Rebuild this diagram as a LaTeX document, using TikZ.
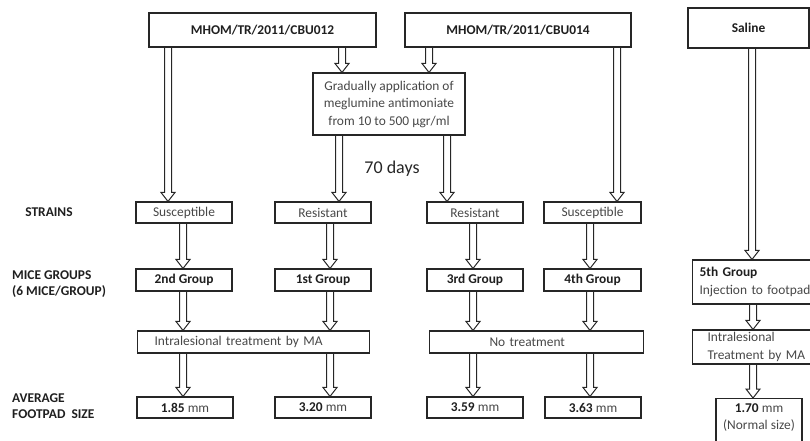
\documentclass[tikz,border=0pt]{standalone}
\usepackage{fontspec}
\setmainfont{Carlito}
\usetikzlibrary{calc}
\tikzset{
  box/.style={draw=black!85, line width=1.1pt, inner sep=0pt,
    font=\fontsize{13.4}{17.5}\selectfont, text=black!72},
  bbox/.style={box, font=\fontsize{13.4}{17.5}\selectfont\bfseries, text=black!88},
  sidelabel/.style={inner sep=0pt, font=\fontsize{13.4}{16}\selectfont\bfseries, text=black!88, align=left},
  barrowstyle/.style={draw=black!85, line width=1pt, line join=miter},
}
\newcommand\barrow[3]{%
  \draw[barrowstyle] let \p0=(#1,0), \p1=(#2.south), \p2=(#3.north) in
    (\x0-3.5pt,\y1) -- (\x0-3.5pt,\y2+9pt) -- (\x0-7pt,\y2+9pt) -- (\x0,\y2)
    -- (\x0+7pt,\y2+9pt) -- (\x0+3.5pt,\y2+9pt) -- (\x0+3.5pt,\y1);}
\begin{document}
\begin{tikzpicture}[x=1pt,y=-1pt]
\useasboundingbox (0,0) rectangle (810,441);
% top row
\node[bbox, minimum width=227, minimum height=34] (cbuA) at (262.5,30) {MHOM/TR/2011/CBU012};
\node[bbox, minimum width=226, minimum height=34] (cbuB) at (518,30) {MHOM/TR/2011/CBU014};
\node[bbox, minimum width=121, minimum height=40] (saline) at (748.5,28) {Saline};
\node[box, minimum width=152, minimum height=62, align=center] (grad) at (389,104)
  {Gradually application of\\meglumine antimoniate\\from 10 to 500 µgr/ml};
\node[inner sep=0pt, font=\fontsize{18}{20}\selectfont, text=black!85] (days) at (392,169) {70 days};
% strains
\node[box, minimum width=96, minimum height=21] (s1) at (184,212.5) {Susceptible};
\node[box, minimum width=96, minimum height=21] (s2) at (323,212.5) {Resistant};
\node[box, minimum width=96, minimum height=21] (s3) at (475,212.5) {Resistant};
\node[box, minimum width=97, minimum height=21] (s4) at (592.5,212.5) {Susceptible};
% groups
\node[bbox, minimum width=96, minimum height=22] (g1) at (184,280) {2nd Group};
\node[bbox, minimum width=96, minimum height=22] (g2) at (323,280) {1st Group};
\node[bbox, minimum width=96, minimum height=22] (g3) at (475,280) {3rd Group};
\node[bbox, minimum width=97, minimum height=22] (g4) at (592.5,280) {4th Group};
\node[box, anchor=west, inner xsep=7, text width=140, align=left, minimum height=44] (g5) at (692,282)
  {{\bfseries\color{black!88}5th Group}\\Injection to footpad};
% treatment
\node[box, anchor=west, inner xsep=17, text width=198, align=left, minimum height=22] (t1) at (137,342)
  {Intralesional treatment by MA};
\node[box, anchor=west, inner xsep=60, text width=94, align=left, minimum height=22] (t2) at (429,342)
  {No treatment};
\node[box, anchor=west, inner xsep=15, text width=140, align=left, minimum height=34] (t5) at (692,347)
  {Intralesional\\Treatment by MA};
% footpad
\node[box, minimum width=96, minimum height=21] (f1) at (185,407.5) {\textbf{\color{black!88}1.85} mm};
\node[box, minimum width=96, minimum height=21] (f2) at (323,407.5) {\textbf{\color{black!88}3.20} mm};
\node[box, minimum width=96, minimum height=21] (f3) at (475,407.5) {\textbf{\color{black!88}3.59} mm};
\node[box, minimum width=96, minimum height=21] (f4) at (593,407.5) {\textbf{\color{black!88}3.63} mm};
\node[box, anchor=north, minimum width=86, inner ysep=5, align=center] (f5) at (759,398)
  {\textbf{\color{black!88}1.70} mm\\(Normal size)\rule[-14pt]{0pt}{14pt}};
% side labels
\node[sidelabel] (lstr) at (49,212) {STRAINS};
\node[sidelabel, anchor=west] (lmice) at (12,284) {MICE GROUPS\\(6 MICE/GROUP)};
\node[sidelabel, anchor=west] (lfoot) at (12,406) {AVERAGE\\FOOTPAD\ \ SIZE};
% arrows
\barrow{168}{cbuA}{s1}
\barrow{342}{cbuA}{grad}
\barrow{429}{cbuB}{grad}
\barrow{339}{grad}{s2}
\barrow{447}{grad}{s3}
\barrow{617}{cbuB}{s4}
\barrow{752}{saline}{g5}
\barrow{183}{s1}{g1}
\barrow{330}{s2}{g2}
\barrow{473}{s3}{g3}
\barrow{590}{s4}{g4}
\barrow{183}{g1}{t1}
\barrow{330}{g2}{t1}
\barrow{473}{g3}{t2}
\barrow{590}{g4}{t2}
\barrow{183}{t1}{f1}
\barrow{330}{t1}{f2}
\barrow{473}{t2}{f3}
\barrow{590}{t2}{f4}
\barrow{753}{g5}{t5}
\barrow{753}{t5}{f5}
\end{tikzpicture}
\end{document}
